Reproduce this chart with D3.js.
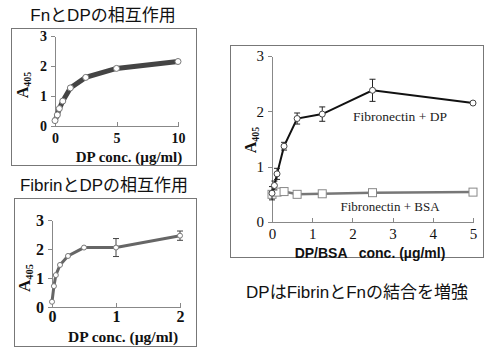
<!DOCTYPE html>
<meta charset="utf-8">
<style>

body {
  margin: 0;
  background: #fff;
}

.box {
  fill: none;
  stroke: #777;
}

.axis path,
.axis line {
  fill: none;
  stroke: #888;
  shape-rendering: crispEdges;
}

.axis text {
  font-family: "Liberation Serif", serif;
  font-weight: bold;
  fill: #111;
}

.title {
  font-family: "Liberation Sans", "Noto Sans CJK JP", sans-serif;
  font-size: 17px;
  fill: #111;
}

.xlabel {
  font-family: "Liberation Serif", serif;
  font-weight: bold;
  fill: #111;
}

</style>
<body>
<svg width="487" height="351"></svg>
</body>

<script src="https://d3js.org/d3.v7.min.js"></script>
<script>

// Fn + DP (top left)
var fnDose = [0, 0.19, 0.35, 0.63, 1.25, 2.5, 5, 10],
    fnA405 = [0.18, 0.37, 0.58, 0.83, 1.27, 1.62, 1.92, 2.15];

// Fibrin + DP (bottom left)
var fibDose = [0, 0.03, 0.06, 0.125, 0.25, 0.5, 1, 2],
    fibA405 = [0.18, 0.72, 1.1, 1.45, 1.76, 2.05, 2.05, 2.46],
    fibErr  = [0, 0, 0, 0, 0, 0, 0.31, 0.16];

// Fibronectin + DP / BSA (right)
var bindDose = [0, 0.06, 0.125, 0.3, 0.625, 1.25, 2.5, 5],
    dpA405   = [0.52, 0.66, 0.87, 1.37, 1.87, 1.95, 2.38, 2.15],
    dpErr    = [0.12, 0.08, 0.1, 0.07, 0.1, 0.13, 0.2, 0.02],
    bsaA405  = [0.5, 0.54, 0.55, 0.5, 0.51, 0.53, 0.54];
var bsaDose  = [0, 0.125, 0.3, 0.625, 1.25, 2.5, 5];

var yTicks = [0, 1, 2, 3],
    fnTicks = [0, 5, 10],
    fibTicks = [0, 1, 2],
    bindTicks = [0, 1, 2, 3, 4, 5];

var svg = d3.select("svg"),
    fmt = d3.format("d");

function axes(g, x, y, xt, yt, size, pad) {
  var xa = g.append("g")
      .attr("class", "axis")
      .attr("transform", "translate(0," + y.range()[0] + ")")
      .call(d3.axisBottom(x).tickValues(xt).tickFormat(fmt).tickSize(-4).tickSizeOuter(0).tickPadding(pad));
  xa.selectAll("text").style("font-size", size + "px");
  var ya = g.append("g")
      .attr("class", "axis")
      .attr("transform", "translate(" + x.range()[0] + ",0)")
      .call(d3.axisLeft(y).tickValues(yt).tickFormat(fmt).tickSize(4).tickSizeOuter(0).tickPadding(4));
  ya.selectAll("text").style("font-size", size + "px");
  return [xa, ya];
}

function ylabel(g, cx, cy, size) {
  var t = g.append("text")
      .attr("class", "xlabel")
      .attr("transform", "translate(" + cx + "," + cy + ") rotate(-90)")
      .attr("text-anchor", "middle")
      .style("font-size", size + "px");
  t.append("tspan").text("A");
  t.append("tspan").attr("dy", "0.3em").style("font-size", (size * 0.62) + "px").text("405");
}

function zip(xs, ys) {
  return xs.map(function(d, i) { return [d, ys[i]]; });
}

// ---- panel 1 ----
svg.append("text").attr("class", "title").attr("x", 103).attr("y", 21)
    .attr("text-anchor", "middle").text("FnとDPの相互作用");
svg.append("rect").attr("class", "box").attr("x", 11.5).attr("y", 28.5).attr("width", 185).attr("height", 137);

var x1 = d3.scaleLinear().domain([0, 10]).range([55, 178]),
    y1 = d3.scaleLinear().domain([0, 3]).range([126, 36]);
var g1 = svg.append("g");
axes(g1, x1, y1, fnTicks, yTicks, 14, 7);
g1.append("path")
    .datum(zip(fnDose, fnA405))
    .attr("fill", "none")
    .attr("stroke", "#444")
    .attr("stroke-width", 5)
    .attr("d", d3.line().x(function(d) { return x1(d[0]); }).y(function(d) { return y1(d[1]); }));
g1.selectAll("circle").data(zip(fnDose, fnA405)).enter().append("circle")
    .attr("cx", function(d) { return x1(d[0]); })
    .attr("cy", function(d) { return y1(d[1]); })
    .attr("r", 3)
    .attr("fill", "#fff")
    .attr("stroke", "#777");
g1.append("text").attr("class", "xlabel").attr("x", 129).attr("y", 162)
    .attr("text-anchor", "middle").style("font-size", "15px").text("DP conc. (µg/ml)");
ylabel(g1, 28, 85, 16);

// ---- panel 2 ----
svg.append("text").attr("class", "title").attr("x", 104).attr("y", 191)
    .attr("text-anchor", "middle").text("FibrinとDPの相互作用");
svg.append("rect").attr("class", "box").attr("x", 14.5).attr("y", 198.5).attr("width", 182).attr("height", 148);

var x2 = d3.scaleLinear().domain([0, 2]).range([52, 180]),
    y2 = d3.scaleLinear().domain([0, 3]).range([307, 220]);
var g2 = svg.append("g");
axes(g2, x2, y2, fibTicks, yTicks, 16, 4);
g2.append("path")
    .datum(zip(fibDose, fibA405))
    .attr("fill", "none")
    .attr("stroke", "#666")
    .attr("stroke-width", 3)
    .attr("d", d3.line().x(function(d) { return x2(d[0]); }).y(function(d) { return y2(d[1]); }));
var e2 = g2.selectAll(".err").data(fibDose.map(function(d, i) { return [d, fibA405[i], fibErr[i]]; })
    .filter(function(d) { return d[2] > 0; })).enter().append("g").attr("class", "err");
e2.append("line")
    .attr("x1", function(d) { return x2(d[0]); }).attr("x2", function(d) { return x2(d[0]); })
    .attr("y1", function(d) { return y2(d[1] - d[2]); }).attr("y2", function(d) { return y2(d[1] + d[2]); })
    .attr("stroke", "#444");
e2.selectAll("line.cap").data(function(d) { return [[d[0], d[1] - d[2]], [d[0], d[1] + d[2]]]; })
  .enter().append("line").attr("class", "cap")
    .attr("x1", function(d) { return x2(d[0]) - 3; }).attr("x2", function(d) { return x2(d[0]) + 3; })
    .attr("y1", function(d) { return y2(d[1]); }).attr("y2", function(d) { return y2(d[1]); })
    .attr("stroke", "#444");
g2.selectAll("circle").data(zip(fibDose, fibA405)).enter().append("circle")
    .attr("cx", function(d) { return x2(d[0]); })
    .attr("cy", function(d) { return y2(d[1]); })
    .attr("r", 2.5)
    .attr("fill", "#fff")
    .attr("stroke", "#777");
g2.append("text").attr("class", "xlabel").attr("x", 123).attr("y", 342)
    .attr("text-anchor", "middle").style("font-size", "15.5px").text("DP conc. (µg/ml)");
ylabel(g2, 30, 278, 17);

// ---- panel 3 ----
svg.append("rect").attr("class", "box").attr("x", 230.5).attr("y", 45.5).attr("width", 253).attr("height", 212)
    .attr("stroke", "#555");

var x3 = d3.scaleLinear().domain([0, 5]).range([272, 473]),
    y3 = d3.scaleLinear().domain([0, 3]).range([222, 56]);
var g3 = svg.append("g");
var a3 = axes(g3, x3, y3, bindTicks, yTicks, 15, 6);
a3[0].selectAll("text").style("font-weight", "normal");
a3[1].selectAll("text").style("font-weight", "normal");

var line3 = d3.line().x(function(d) { return x3(d[0]); }).y(function(d) { return y3(d[1]); });
g3.append("path")
    .datum(zip(bsaDose, bsaA405))
    .attr("fill", "none")
    .attr("stroke", "#777")
    .attr("stroke-width", 2.5)
    .attr("d", line3);
g3.selectAll("rect.bsa").data(zip(bsaDose, bsaA405)).enter().append("rect")
    .attr("class", "bsa")
    .attr("x", function(d) { return x3(d[0]) - 4; })
    .attr("y", function(d) { return y3(d[1]) - 4; })
    .attr("width", 8).attr("height", 8)
    .attr("fill", "#fff")
    .attr("stroke", "#888");

g3.append("path")
    .datum(zip(bindDose, dpA405))
    .attr("fill", "none")
    .attr("stroke", "#111")
    .attr("stroke-width", 2)
    .attr("d", line3);
var e3 = g3.selectAll(".err").data(bindDose.map(function(d, i) { return [d, dpA405[i], dpErr[i]]; }))
  .enter().append("g").attr("class", "err");
e3.append("line")
    .attr("x1", function(d) { return x3(d[0]); }).attr("x2", function(d) { return x3(d[0]); })
    .attr("y1", function(d) { return y3(d[1] - d[2]); }).attr("y2", function(d) { return y3(d[1] + d[2]); })
    .attr("stroke", "#222");
e3.selectAll("line.cap").data(function(d) { return [[d[0], d[1] - d[2]], [d[0], d[1] + d[2]]]; })
  .enter().append("line").attr("class", "cap")
    .attr("x1", function(d) { return x3(d[0]) - 3; }).attr("x2", function(d) { return x3(d[0]) + 3; })
    .attr("y1", function(d) { return y3(d[1]); }).attr("y2", function(d) { return y3(d[1]); })
    .attr("stroke", "#222");
g3.selectAll("circle").data(zip(bindDose, dpA405)).enter().append("circle")
    .attr("cx", function(d) { return x3(d[0]); })
    .attr("cy", function(d) { return y3(d[1]); })
    .attr("r", 3)
    .attr("fill", "#fff")
    .attr("stroke", "#444");

g3.append("text").attr("x", 400).attr("y", 121).attr("text-anchor", "middle")
    .style("font-family", "Liberation Serif, serif").style("font-size", "13.5px").attr("fill", "#222")
    .text("Fibronectin + DP");
g3.append("text").attr("x", 390).attr("y", 211).attr("text-anchor", "middle")
    .style("font-family", "Liberation Serif, serif").style("font-size", "13px").attr("fill", "#222")
    .text("Fibronectin + BSA");
g3.append("text").attr("x", 370).attr("y", 258).attr("text-anchor", "middle")
    .style("font-family", "Liberation Sans, sans-serif").style("font-weight", "bold").style("font-size", "14px")
    .attr("fill", "#111").attr("xml:space", "preserve")
    .text("DP/BSA   conc. (µg/ml)");
ylabel(g3, 256, 140, 16);

svg.append("text").attr("class", "title").attr("x", 357).attr("y", 298)
    .attr("text-anchor", "middle").text("DPはFibrinとFnの結合を増強");

</script>
